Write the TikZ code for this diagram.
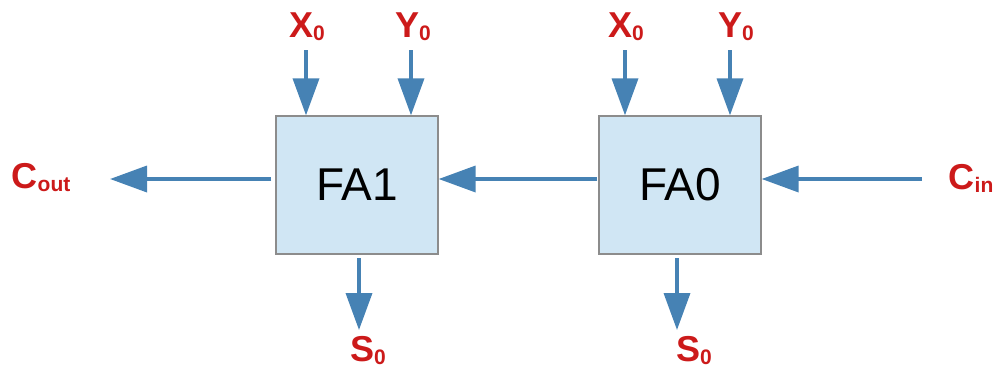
\documentclass[tikz,border=0pt]{standalone}
\usepackage{fontspec}
\setmainfont{Liberation Sans}
\usetikzlibrary{arrows.meta}
\definecolor{arrowblue}{HTML}{4682B4}
\definecolor{boxblue}{HTML}{D0E6F4}
\definecolor{boxedge}{HTML}{8C8C8C}
\definecolor{labred}{HTML}{CC1A1A}
\newcommand{\sigsub}[1]{\raisebox{-3pt}{\fontsize{21}{21}\selectfont #1}}
\tikzset{
  fabox/.style={draw=boxedge, line width=1.3pt, fill=boxblue, minimum width=162pt, minimum height=138pt, inner sep=0pt, font=\fontsize{46}{46}\selectfont},
  siglabel/.style={text=labred, font=\bfseries\fontsize{36}{36}\selectfont, inner sep=0pt},
  sigarrow/.style={draw=arrowblue, line width=3.6pt, -{Triangle[length=37pt,width=26pt]}}
}
\begin{document}
\begin{tikzpicture}[x=1pt,y=-1pt]
\useasboundingbox (0,0) rectangle (994,368);
\node[fabox] (fa1) at (357,185) {FA1};
\node[fabox] (fa0) at (680,185) {FA0};
% labels
\node[siglabel] (x1) at (307,27) {X\sigsub{0}};
\node[siglabel] (y1) at (413,27) {Y\sigsub{0}};
\node[siglabel] (x0) at (626,27) {X\sigsub{0}};
\node[siglabel] (y0) at (736,27) {Y\sigsub{0}};
\node[siglabel] (cout) at (41,178) {C\sigsub{out}};
\node[siglabel] (cin) at (971,178) {C\sigsub{in}};
\node[siglabel] (s1) at (368,351) {S\sigsub{0}};
\node[siglabel] (s0) at (694,351) {S\sigsub{0}};
% arrow end points
\coordinate (x1s) at (306,50);
\coordinate (y1s) at (411,50);
\coordinate (x0s) at (625,50);
\coordinate (y0s) at (730,50);
\coordinate (coutend) at (110,179);
\coordinate (cinstart) at (922,179);
\coordinate (s1s) at (359,258);
\coordinate (s1e) at (359,330);
\coordinate (s0s) at (677,258);
\coordinate (s0e) at (677,330);
% arrows
\draw[sigarrow] (x1s) -- (x1s |- fa1.north);
\draw[sigarrow] (y1s) -- (y1s |- fa1.north);
\draw[sigarrow] (x0s) -- (x0s |- fa0.north);
\draw[sigarrow] (y0s) -- (y0s |- fa0.north);
\draw[sigarrow] ([xshift=-4pt]fa1.west |- coutend) -- (coutend);
\draw[sigarrow] ([xshift=-1pt]fa0.west |- coutend) -- (fa1.east |- coutend);
\draw[sigarrow] (cinstart) -- (fa0.east |- cinstart);
\draw[sigarrow] (s1s) -- (s1e);
\draw[sigarrow] (s0s) -- (s0e);
\end{tikzpicture}
\end{document}
